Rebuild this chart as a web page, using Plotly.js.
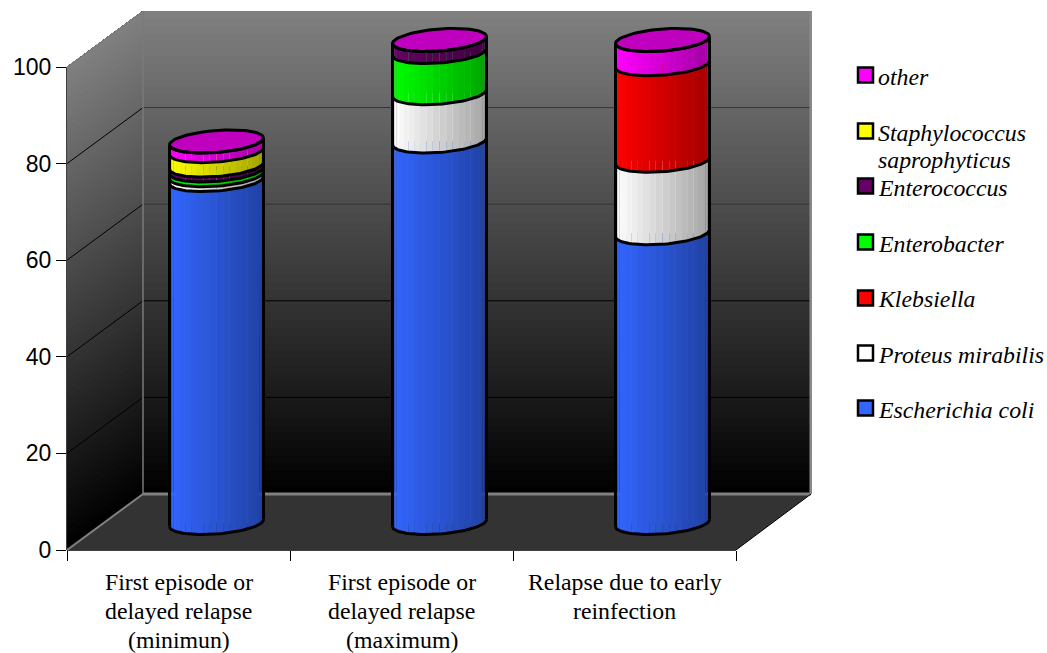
<!DOCTYPE html>
<html>
<head>
<meta charset="utf-8">
<script src="https://cdn.plot.ly/plotly-3.0.1.min.js"></script>
<style>html,body{margin:0;padding:0;background:#fff}#chart{width:1047px;height:653px}</style>
</head>
<body>
<div id="chart"></div>
<script>
// Share of uropathogens per patient group, stacked as 3-D style cylinders
const categoryLines = [
  ["First episode or", "delayed relapse", "(minimun)"],
  ["First episode or", "delayed relapse", "(maximum)"],
  ["Relapse due to early", "reinfection"]
];
const speciesNames = ["Escherichia coli", "Proteus mirabilis", "Klebsiella", "Enterobacter", "Enterococcus", "Staphylococcus saprophyticus", "other"];
const speciesColors = ["#3366ff", "#ffffff", "#ff0000", "#00ff00", "#660066", "#ffff00", "#ff00ff"];
const escherichia = [71, 79, 60];
const proteus = [1, 10, 15];
const klebsiella = [0, 0, 20];
const enterobacter = [1, 8.5, 0];
const enterococcus = [1, 2.5, 0];
const staphylococcus = [3, 0, 0];
const other = [2, 0, 5];
const seriesValues = [escherichia, proteus, klebsiella, enterobacter, enterococcus, staphylococcus, other];
const yTicks = [0, 20, 40, 60, 80, 100];

// Frame geometry in pixels
const PLOT_L = 67, PLOT_B = 550, PLOT_R = 812, PLOT_T = 11;
const CAT_W = 223, PX_PER_UNIT = 4.83;
const DEPTH_X = 76, DEPTH_Y = 56;
const BACK_R = 811;
const RADIUS = 47, MINOR = 11, SKEW = 3.5, STRIPS = 22;

const uX = px => px / CAT_W;
const uY = px => px / PX_PER_UNIT;
const xRange = [0, uX(PLOT_R - PLOT_L)];
const yRange = [0, uY(PLOT_B - PLOT_T)];
const midX = uX(DEPTH_X / 2), midY = uY(DEPTH_Y / 2 - 1);
const paperX = px => (px - PLOT_L) / (PLOT_R - PLOT_L);
const paperY = py => (PLOT_B - py) / (PLOT_B - PLOT_T);

function shade(hex, f) {
  const n = parseInt(hex.slice(1), 16);
  const c = [(n >> 16) & 255, (n >> 8) & 255, n & 255].map(v => Math.round(v * f));
  return `rgb(${c[0]},${c[1]},${c[2]})`;
}

const traces = [];
// Empty trace keeps the front axes on the page
traces.push({type: 'scatter', x: [], y: [], xaxis: 'x', yaxis: 'y', showlegend: false, hoverinfo: 'skip'});

// Stacked bars, placed on the axes shifted to the middle of the chart depth
const barCentres = categoryLines.map((_, i) => i + 0.5);
speciesNames.forEach((name, s) => {
  traces.push({
    type: 'bar', name: name, x: barCentres, y: seriesValues[s], xaxis: 'x2', yaxis: 'y2',
    width: uX(84), marker: {color: speciesColors[s], line: {width: 0}},
    showlegend: false, hoverinfo: 'skip'
  });
});

// Elliptical rim height in value units, u runs from -1 (left) to 1 (right)
const rimFront = (v, u) => v + uY(SKEW * u - MINOR * Math.sqrt(Math.max(0, 1 - u * u)));
const rimX = (c, u) => c + uX(RADIUS) * u;
const lineX = [], lineY = [];
function addFrontRim(c, v) {
  for (let k = 0; k <= 48; k++) {
    const u = -Math.cos(Math.PI * k / 48);
    lineX.push(rimX(c, u)); lineY.push(rimFront(v, u));
  }
  lineX.push(null); lineY.push(null);
}

barCentres.forEach((c, b) => {
  let level = 0;
  addFrontRim(c, 0);
  seriesValues.forEach((vals, s) => {
    const v = vals[b];
    if (!v) return;
    const lo = level, hi = level + v;
    for (let k = 0; k < STRIPS; k++) {
      const a1 = Math.PI * (1 - k / STRIPS), a2 = Math.PI * (1 - (k + 1) / STRIPS);
      const us = [];
      for (let j = 0; j <= 4; j++) us.push(Math.cos(a1 + (a2 - a1) * j / 4));
      const mid = (us[0] + us[4]) / 2;
      const f = 1 - 0.36 * (mid + 1) / 2;
      const xs = us.map(u => rimX(c, u)).concat(us.slice().reverse().map(u => rimX(c, u)));
      const ys = us.map(u => rimFront(lo, u)).concat(us.slice().reverse().map(u => rimFront(hi, u)));
      traces.push({
        type: 'scatter', mode: 'lines', x: xs, y: ys, xaxis: 'x2', yaxis: 'y2',
        fill: 'toself', fillcolor: shade(speciesColors[s], f), line: {width: 0},
        showlegend: false, hoverinfo: 'skip'
      });
    }
    addFrontRim(c, hi);
    level = hi;
  });
  // Side edges
  lineX.push(rimX(c, -1), rimX(c, -1), null, rimX(c, 1), rimX(c, 1), null);
  lineY.push(rimFront(0, -1), rimFront(level, -1), null, rimFront(0, 1), rimFront(level, 1), null);
  // Lid of the cylinder
  const lidX = [], lidY = [];
  for (let k = 0; k <= 72; k++) {
    const th = 2 * Math.PI * k / 72, u = Math.cos(th);
    lidX.push(rimX(c, u));
    lidY.push(level + uY(SKEW * u + MINOR * Math.sin(th)));
  }
  traces.push({
    type: 'scatter', mode: 'lines', x: lidX, y: lidY, xaxis: 'x2', yaxis: 'y2',
    fill: 'toself', fillcolor: shade(speciesColors[6], 0.75),
    line: {color: '#000', width: 3}, showlegend: false, hoverinfo: 'skip'
  });
});
traces.push({
  type: 'scatter', mode: 'lines', x: lineX, y: lineY, xaxis: 'x2', yaxis: 'y2',
  line: {color: '#000', width: 3}, connectgaps: false, showlegend: false, hoverinfo: 'skip'
});

// Chart walls: each band paints from its level up to the top so no seams show
const shapes = [];
const backX0 = uX(DEPTH_X), backX1 = uX(BACK_R - PLOT_L), dY = uY(DEPTH_Y);
const wallTop = 100;
const BANDS = 64;
for (let i = 0; i < BANDS; i++) {
  const v0 = wallTop * i / BANDS;
  const g = Math.round(128 * (i + 0.5) / BANDS);
  const col = `rgb(${g},${g},${g})`;
  shapes.push({type: 'rect', layer: 'below', xref: 'x', yref: 'y', x0: backX0, x1: backX1, y0: v0 + dY, y1: wallTop + dY, fillcolor: col, line: {width: 0}});
  shapes.push({type: 'path', layer: 'below', xref: 'x', yref: 'y',
    path: `M 0 ${v0} L ${backX0} ${v0 + dY} L ${backX0} ${wallTop + dY} L 0 ${wallTop} Z`,
    fillcolor: col, line: {width: 0}});
}
// Floor
shapes.push({type: 'path', layer: 'below', xref: 'x', yref: 'y',
  path: `M 0 0 L 3 0 L ${backX1} ${dY} L ${backX0} ${dY} Z`, fillcolor: '#333333', line: {width: 0}});
const addLine = (x0, y0, x1, y1, color, width, xref, yref) => shapes.push({
  type: 'line', layer: 'below', xref: xref || 'x', yref: yref || 'y', x0, y0, x1, y1, line: {color, width}
});
// Grid on the back and side walls
yTicks.slice(1).forEach(v => {
  if (v < 100) addLine(backX0, v + dY, backX1, v + dY, v >= 60 ? '#333' : '#000', 1);
  if (v < 100) addLine(0, v, backX0, v + dY, '#000', 1);
});
// Wall edges
addLine(backX0, dY, backX0, 100 + dY, '#7a7a7a', 1.5);
addLine(backX0, dY, backX1, dY, '#808080', 3);
addLine(0, 0, backX0, dY, '#808080', 2);
addLine(backX1, dY, backX1, 100 + dY, '#8a8a8a', 3);
addLine(3, 0, backX1, dY, '#000', 1);
// Front axis lines
addLine(0, 0, 0, 100, '#000', 1.5, 'paper', 'y');
addLine(0, 0, 3, 0, '#000', 1.5, 'x', 'paper');

const TEXT_FONT = {family: 'Liberation Serif', size: 23.8, color: '#000'};
const annotations = [];
categoryLines.forEach((lines, i) => lines.forEach((text, j) => {
  annotations.push({
    xref: 'x', yref: 'paper', x: i + 0.5, y: paperY(582 + j * 29), xanchor: 'center', yanchor: 'middle',
    text: text, showarrow: false, font: TEXT_FONT
  });
}));

// Key, top entry first
const keyRows = [
  {s: 6, y: 75, lines: [["other", 77]]},
  {s: 5, y: 131, lines: [["Staphylococcus", 133], ["saprophyticus", 160]]},
  {s: 4, y: 186, lines: [["Enterococcus", 188]]},
  {s: 3, y: 242, lines: [["Enterobacter", 244]]},
  {s: 2, y: 298, lines: [["Klebsiella", 299]]},
  {s: 1, y: 353, lines: [["Proteus mirabilis", 355]]},
  {s: 0, y: 408, lines: [["Escherichia coli", 410]]}
];
keyRows.forEach(row => {
  shapes.push({type: 'rect', xref: 'paper', yref: 'paper',
    x0: paperX(858), x1: paperX(873), y0: paperY(row.y + 7.5), y1: paperY(row.y - 7.5),
    fillcolor: speciesColors[row.s], line: {color: '#000', width: 2.5}});
  row.lines.forEach(([text, py]) => annotations.push({
    xref: 'paper', yref: 'paper', x: paperX(876), y: paperY(py), xanchor: 'left', yanchor: 'middle',
    text: `<i>${text}</i>`, showarrow: false, font: TEXT_FONT
  }));
});

const layout = {
  width: 1047, height: 653,
  margin: {l: PLOT_L, r: 1047 - PLOT_R, t: PLOT_T, b: 653 - PLOT_B, pad: 0},
  paper_bgcolor: '#fff', plot_bgcolor: 'rgba(0,0,0,0)',
  barmode: 'stack', showlegend: false, hovermode: false,
  xaxis: {range: xRange, tickmode: 'array', tickvals: [0, 1, 2, 3], ticks: 'outside', ticklen: 10, tickwidth: 1, tickcolor: '#000',
    showticklabels: false, showgrid: false, zeroline: false, showline: false, fixedrange: true},
  yaxis: {range: yRange, tickmode: 'array', tickvals: yTicks, ticktext: yTicks.map(String), ticks: 'outside', ticklen: 10, tickwidth: 1, tickcolor: '#000',
    tickfont: {family: 'Liberation Sans', size: 23, color: '#000'}, showgrid: false, zeroline: false, showline: false, fixedrange: true},
  xaxis2: {overlaying: 'x', anchor: 'y2', visible: false, range: [xRange[0] - midX, xRange[1] - midX], fixedrange: true},
  yaxis2: {overlaying: 'y', anchor: 'x2', visible: false, range: [yRange[0] - midY, yRange[1] - midY], fixedrange: true},
  shapes: shapes, annotations: annotations
};

Plotly.newPlot('chart', traces, layout, {displayModeBar: false, responsive: false});
</script>
</body>
</html>
